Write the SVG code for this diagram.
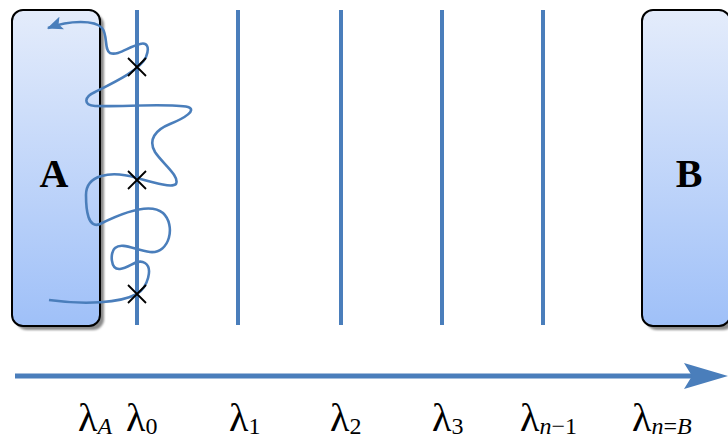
<svg xmlns="http://www.w3.org/2000/svg" width="728" height="441" viewBox="0 0 728 441">
<defs>
<linearGradient id="g" x1="0" y1="0" x2="0" y2="1">
<stop offset="0" stop-color="#e4ecfb"/>
<stop offset="1" stop-color="#9fc0f8"/>
</linearGradient>
<marker id="ah" markerUnits="userSpaceOnUse" markerWidth="18" markerHeight="14" refX="13" refY="6" orient="auto" viewBox="0 0 16 12">
<path d="M0,0 L14,6 L0,12 L3,6 Z" fill="#4a7ebb"/>
</marker>
<filter id="blur" x="-10%" y="-10%" width="120%" height="120%"><feGaussianBlur stdDeviation="1"/></filter>
</defs>
<style>
.box{fill:url(#g);stroke:#000;stroke-width:2}
.sh{fill:#8a8a8a;filter:url(#blur)}
.lay{stroke:#4a7ebb;stroke-width:4;fill:none}
.big{font-family:"Liberation Serif",serif;font-weight:bold;font-size:40px;text-anchor:middle}
.lam{font-family:"Liberation Serif",serif;font-size:40px}
.sub{font-size:24px}
.it{font-style:italic}
.x{stroke:#000;stroke-width:1.8}
</style>
<g id="nodeA">
<rect class="sh" x="16" y="14" width="88" height="316" rx="11"/>
<rect class="box" x="12" y="10" width="88" height="316" rx="11"/>
<text class="big" x="54" y="187">A</text>
</g>
<g id="nodeB">
<rect class="sh" x="646" y="14" width="88" height="316" rx="11"/>
<rect class="box" x="642" y="10" width="88" height="316" rx="11"/>
<text class="big" x="689" y="187">B</text>
</g>
<g id="layers">
<line class="lay" x1="137" y1="10" x2="137" y2="325"/>
<line class="lay" x1="238" y1="10" x2="238" y2="325"/>
<line class="lay" x1="341" y1="10" x2="341" y2="325"/>
<line class="lay" x1="442" y1="10" x2="442" y2="325"/>
<line class="lay" x1="543" y1="10" x2="543" y2="325"/>
</g>
<g id="connectors">
<path d="M49,300 C85,305 120,303 137,294 C148,287 153,268 145,263 C137,258 130,268 120,269 C110,270 110,252 115,248 C122,242 135,250 150,252 C170,254 176,225 163,213 C150,202 120,214 100,224 C88,229 86,210 86,195 C86,175 110,170 137,178 C155,183 172,188 176,184 C180,176 162,163 155,152 C148,140 155,130 170,124 C185,118 197,110 188,107 C170,103 120,107 95,106 C83,105 84,97 95,92 C115,82 140,70 146,57 C150,47 147,42 140,44 C128,47 118,56 110,53 C104,50 108,35 102,28 C95,20 70,20 48,28" fill="none" stroke="#4a7ebb" stroke-width="2.6" marker-end="url(#ah)"/>
<line x1="15" y1="376" x2="694" y2="376" stroke="#4a7ebb" stroke-width="5"/>
<path d="M684,363 L728,376 L684,389 L692,376 Z" fill="#4a7ebb"/>
</g>
<g id="marks">
<path class="x" d="M128,58 L146,76 M146,58 L128,76"/>
<path class="x" d="M128,171 L146,189 M146,171 L128,189"/>
<path class="x" d="M128,285 L146,303 M146,285 L128,303"/>
</g>
<g id="labels">
<text class="lam" x="78" y="431">λ<tspan class="sub it" dy="3">A</tspan></text>
<text class="lam" x="126" y="431">λ<tspan class="sub" dy="3">0</tspan></text>
<text class="lam" x="229" y="431">λ<tspan class="sub" dy="3">1</tspan></text>
<text class="lam" x="330" y="431">λ<tspan class="sub" dy="3">2</tspan></text>
<text class="lam" x="432" y="431">λ<tspan class="sub" dy="3">3</tspan></text>
<text class="lam" x="520" y="431">λ<tspan class="sub" dy="3"><tspan class="it">n</tspan>−1</tspan></text>
<text class="lam" x="632" y="431">λ<tspan class="sub" dy="3"><tspan class="it">n</tspan>=<tspan class="it">B</tspan></tspan></text>
</g>
</svg>
